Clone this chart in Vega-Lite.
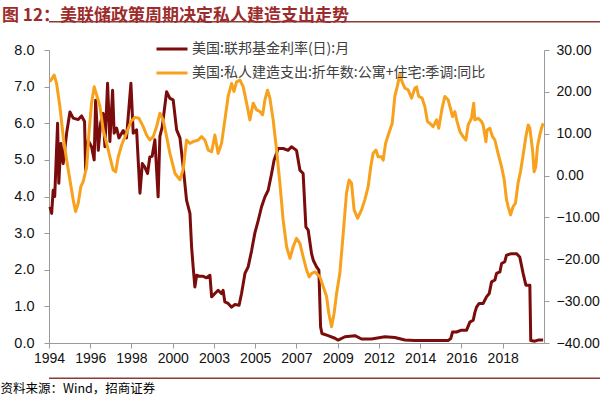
{
  "$schema": "https://vega.github.io/schema/vega-lite/v6.json",
  "width": 495,
  "height": 293,
  "autosize": {"type": "none"},
  "padding": {"left": 49, "top": 50, "right": 56, "bottom": 55},
  "background": "white",
  "config": {"view": {"stroke": null}, "font": "Liberation Sans"},
  "title": {
    "text": "图 12：美联储政策周期决定私人建造支出走势",
    "anchor": "start",
    "frame": "group",
    "orient": "top",
    "dx": -47,
    "dy": 27,
    "offset": 10,
    "baseline": "alphabetic",
    "font": "Noto Sans CJK SC",
    "fontSize": 17,
    "fontWeight": "bold",
    "color": "#9c2b2b"
  },
  "datasets": {
    "rate": [
      {"date": "1994-01-20", "value": 3.72},
      {"date": "1994-02-23", "value": 3.54},
      {"date": "1994-03-25", "value": 4.17},
      {"date": "1994-04-25", "value": 4.0},
      {"date": "1994-06-21", "value": 6.0},
      {"date": "1994-07-15", "value": 4.36},
      {"date": "1994-08-26", "value": 5.45},
      {"date": "1994-10-11", "value": 4.9},
      {"date": "1994-12-18", "value": 5.73},
      {"date": "1995-02-22", "value": 6.31},
      {"date": "1995-04-28", "value": 6.14},
      {"date": "1995-08-06", "value": 6.1},
      {"date": "1995-10-12", "value": 6.2},
      {"date": "1995-12-10", "value": 6.05},
      {"date": "1996-01-01", "value": 4.72},
      {"date": "1996-02-21", "value": 5.53},
      {"date": "1996-04-28", "value": 5.36},
      {"date": "1996-06-19", "value": 5.0},
      {"date": "1996-07-18", "value": 6.63},
      {"date": "1996-09-09", "value": 5.26},
      {"date": "1996-10-25", "value": 6.0},
      {"date": "1996-12-16", "value": 6.27},
      {"date": "1997-01-19", "value": 5.36},
      {"date": "1997-03-13", "value": 7.09},
      {"date": "1997-04-28", "value": 5.5},
      {"date": "1997-06-21", "value": 6.9},
      {"date": "1997-07-22", "value": 5.73},
      {"date": "1997-09-09", "value": 5.87},
      {"date": "1997-10-25", "value": 5.6},
      {"date": "1998-01-19", "value": 5.8},
      {"date": "1998-03-25", "value": 5.6},
      {"date": "1998-06-21", "value": 7.09},
      {"date": "1998-08-06", "value": 5.73},
      {"date": "1998-10-12", "value": 5.82},
      {"date": "1998-12-18", "value": 4.09},
      {"date": "1999-02-03", "value": 4.9},
      {"date": "1999-03-25", "value": 4.8},
      {"date": "1999-05-18", "value": 4.63},
      {"date": "1999-07-03", "value": 5.08},
      {"date": "1999-08-18", "value": 5.1},
      {"date": "1999-10-12", "value": 5.55},
      {"date": "1999-12-15", "value": 3.99},
      {"date": "2000-01-19", "value": 5.64},
      {"date": "2000-03-06", "value": 5.9},
      {"date": "2000-06-01", "value": 6.86},
      {"date": "2000-08-06", "value": 6.68},
      {"date": "2000-10-10", "value": 6.64},
      {"date": "2000-12-18", "value": 5.82},
      {"date": "2001-02-22", "value": 5.6},
      {"date": "2001-04-28", "value": 4.8},
      {"date": "2001-07-03", "value": 3.9},
      {"date": "2001-09-09", "value": 3.54},
      {"date": "2001-10-12", "value": 2.62},
      {"date": "2001-11-12", "value": 2.08},
      {"date": "2001-12-16", "value": 1.53},
      {"date": "2002-01-21", "value": 1.85},
      {"date": "2002-03-25", "value": 1.82},
      {"date": "2002-06-01", "value": 1.82},
      {"date": "2002-08-06", "value": 1.78},
      {"date": "2002-10-12", "value": 1.85},
      {"date": "2002-11-15", "value": 1.26},
      {"date": "2003-01-19", "value": 1.35},
      {"date": "2003-03-25", "value": 1.44},
      {"date": "2003-06-01", "value": 1.35},
      {"date": "2003-07-01", "value": 1.44},
      {"date": "2003-08-06", "value": 1.12},
      {"date": "2003-10-10", "value": 1.08},
      {"date": "2003-12-18", "value": 0.98},
      {"date": "2004-02-22", "value": 1.05},
      {"date": "2004-05-15", "value": 1.03},
      {"date": "2004-07-03", "value": 1.35},
      {"date": "2004-09-09", "value": 1.9},
      {"date": "2004-11-12", "value": 2.08},
      {"date": "2005-01-21", "value": 2.53},
      {"date": "2005-03-25", "value": 3.0},
      {"date": "2005-06-01", "value": 3.35},
      {"date": "2005-08-06", "value": 3.72},
      {"date": "2005-10-12", "value": 3.99},
      {"date": "2005-12-16", "value": 4.17},
      {"date": "2006-02-22", "value": 4.63},
      {"date": "2006-04-12", "value": 4.99},
      {"date": "2006-07-03", "value": 5.31},
      {"date": "2006-10-10", "value": 5.31},
      {"date": "2007-01-18", "value": 5.26},
      {"date": "2007-03-25", "value": 5.36},
      {"date": "2007-07-03", "value": 5.26},
      {"date": "2007-09-09", "value": 4.72},
      {"date": "2007-11-12", "value": 4.63},
      {"date": "2008-01-06", "value": 3.17},
      {"date": "2008-02-21", "value": 3.08},
      {"date": "2008-04-28", "value": 2.44},
      {"date": "2008-06-01", "value": 2.26},
      {"date": "2008-08-06", "value": 2.08},
      {"date": "2008-09-21", "value": 1.99},
      {"date": "2008-10-25", "value": 0.44},
      {"date": "2008-11-21", "value": 0.26},
      {"date": "2009-03-25", "value": 0.2},
      {"date": "2009-08-06", "value": 0.13},
      {"date": "2009-10-10", "value": 0.08},
      {"date": "2010-02-22", "value": 0.17},
      {"date": "2010-09-09", "value": 0.2},
      {"date": "2011-01-19", "value": 0.11},
      {"date": "2011-08-06", "value": 0.11},
      {"date": "2012-04-28", "value": 0.17},
      {"date": "2012-11-12", "value": 0.15},
      {"date": "2013-06-01", "value": 0.08},
      {"date": "2013-12-16", "value": 0.07},
      {"date": "2014-07-03", "value": 0.07},
      {"date": "2015-01-18", "value": 0.07},
      {"date": "2015-10-10", "value": 0.07},
      {"date": "2015-12-01", "value": 0.12},
      {"date": "2016-01-06", "value": 0.3},
      {"date": "2016-03-25", "value": 0.3},
      {"date": "2016-07-03", "value": 0.35},
      {"date": "2016-10-12", "value": 0.35},
      {"date": "2016-12-16", "value": 0.57},
      {"date": "2017-02-21", "value": 0.62},
      {"date": "2017-03-25", "value": 0.83},
      {"date": "2017-04-28", "value": 0.98},
      {"date": "2017-06-18", "value": 1.08},
      {"date": "2017-09-06", "value": 1.08},
      {"date": "2017-11-12", "value": 1.26},
      {"date": "2018-01-06", "value": 1.35},
      {"date": "2018-02-21", "value": 1.67},
      {"date": "2018-04-28", "value": 1.72},
      {"date": "2018-06-01", "value": 1.9},
      {"date": "2018-08-06", "value": 1.94},
      {"date": "2018-09-09", "value": 2.17},
      {"date": "2018-11-12", "value": 2.22},
      {"date": "2018-12-16", "value": 2.4},
      {"date": "2019-03-25", "value": 2.44},
      {"date": "2019-07-03", "value": 2.44},
      {"date": "2019-09-06", "value": 2.35},
      {"date": "2019-11-12", "value": 1.9},
      {"date": "2020-01-06", "value": 1.58},
      {"date": "2020-03-25", "value": 1.58},
      {"date": "2020-04-12", "value": 0.07},
      {"date": "2020-07-01", "value": 0.05},
      {"date": "2020-09-06", "value": 0.08},
      {"date": "2020-12-15", "value": 0.08}
    ],
    "cons": [
      {"date": "1994-01-20", "value": 22.4},
      {"date": "1994-04-14", "value": 24.0},
      {"date": "1994-06-01", "value": 22.0},
      {"date": "1994-08-06", "value": 16.5},
      {"date": "1994-10-11", "value": 9.3},
      {"date": "1994-12-18", "value": 3.7},
      {"date": "1995-02-22", "value": -1.05},
      {"date": "1995-04-28", "value": -5.8},
      {"date": "1995-06-15", "value": -8.6},
      {"date": "1995-08-06", "value": -6.6},
      {"date": "1995-09-28", "value": -2.6},
      {"date": "1995-11-12", "value": -1.5},
      {"date": "1996-01-21", "value": 2.1},
      {"date": "1996-03-06", "value": 10.1},
      {"date": "1996-04-28", "value": 17.3},
      {"date": "1996-06-19", "value": 21.2},
      {"date": "1996-08-06", "value": 19.3},
      {"date": "1996-10-12", "value": 16.5},
      {"date": "1996-12-16", "value": 10.9},
      {"date": "1997-02-23", "value": 7.7},
      {"date": "1997-04-28", "value": 4.5},
      {"date": "1997-07-03", "value": 1.3},
      {"date": "1997-08-21", "value": 0.9},
      {"date": "1997-10-12", "value": 4.5},
      {"date": "1997-12-18", "value": 7.3},
      {"date": "1998-03-25", "value": 10.1},
      {"date": "1998-06-21", "value": 12.9},
      {"date": "1998-09-09", "value": 13.9},
      {"date": "1998-11-27", "value": 13.7},
      {"date": "1999-02-21", "value": 11.7},
      {"date": "1999-04-28", "value": 9.7},
      {"date": "1999-07-03", "value": 8.5},
      {"date": "1999-09-09", "value": 9.3},
      {"date": "1999-11-15", "value": 11.7},
      {"date": "2000-01-19", "value": 14.9},
      {"date": "2000-03-25", "value": 13.3},
      {"date": "2000-06-01", "value": 9.3},
      {"date": "2000-08-06", "value": 5.3},
      {"date": "2000-11-15", "value": 0.5},
      {"date": "2001-02-22", "value": -1.0},
      {"date": "2001-04-28", "value": 1.5},
      {"date": "2001-07-03", "value": 8.5},
      {"date": "2001-09-09", "value": 7.7},
      {"date": "2001-11-12", "value": 8.1},
      {"date": "2002-02-21", "value": 8.5},
      {"date": "2002-04-28", "value": 9.3},
      {"date": "2002-07-03", "value": 8.5},
      {"date": "2002-09-09", "value": 6.1},
      {"date": "2002-11-15", "value": 5.7},
      {"date": "2003-01-19", "value": 9.7},
      {"date": "2003-03-25", "value": 5.3},
      {"date": "2003-06-01", "value": 7.7},
      {"date": "2003-08-06", "value": 13.3},
      {"date": "2003-10-10", "value": 18.9},
      {"date": "2003-12-18", "value": 22.0},
      {"date": "2004-02-03", "value": 20.1},
      {"date": "2004-03-25", "value": 22.4},
      {"date": "2004-06-01", "value": 22.8},
      {"date": "2004-08-06", "value": 21.2},
      {"date": "2004-10-12", "value": 17.3},
      {"date": "2004-12-16", "value": 13.3},
      {"date": "2005-02-21", "value": 17.3},
      {"date": "2005-04-28", "value": 15.7},
      {"date": "2005-07-03", "value": 15.3},
      {"date": "2005-08-27", "value": 14.5},
      {"date": "2005-10-12", "value": 18.1},
      {"date": "2005-12-03", "value": 20.4},
      {"date": "2006-01-19", "value": 18.5},
      {"date": "2006-03-25", "value": 13.3},
      {"date": "2006-06-01", "value": 6.1},
      {"date": "2006-08-06", "value": -1.8},
      {"date": "2006-10-10", "value": -10.6},
      {"date": "2006-12-18", "value": -17.0},
      {"date": "2007-02-22", "value": -19.8},
      {"date": "2007-04-28", "value": -17.0},
      {"date": "2007-07-03", "value": -15.0},
      {"date": "2007-09-09", "value": -16.2},
      {"date": "2007-11-12", "value": -19.4},
      {"date": "2008-01-21", "value": -22.6},
      {"date": "2008-03-12", "value": -24.2},
      {"date": "2008-04-28", "value": -23.4},
      {"date": "2008-07-03", "value": -23.0},
      {"date": "2008-10-12", "value": -24.2},
      {"date": "2008-12-16", "value": -26.5},
      {"date": "2009-02-21", "value": -28.9},
      {"date": "2009-04-06", "value": -32.9},
      {"date": "2009-06-01", "value": -36.1},
      {"date": "2009-07-21", "value": -32.9},
      {"date": "2009-09-09", "value": -28.1},
      {"date": "2009-11-12", "value": -23.4},
      {"date": "2010-01-19", "value": -13.8},
      {"date": "2010-03-25", "value": -4.2},
      {"date": "2010-05-15", "value": -1.05},
      {"date": "2010-07-03", "value": -1.8},
      {"date": "2010-08-24", "value": -8.2},
      {"date": "2010-11-01", "value": -10.2},
      {"date": "2011-01-19", "value": -8.2},
      {"date": "2011-03-25", "value": -5.8},
      {"date": "2011-06-01", "value": -2.6},
      {"date": "2011-07-21", "value": 2.1},
      {"date": "2011-09-06", "value": 5.3},
      {"date": "2011-11-01", "value": 6.1},
      {"date": "2011-12-15", "value": 4.5},
      {"date": "2012-02-21", "value": 4.5},
      {"date": "2012-03-25", "value": 3.7},
      {"date": "2012-05-12", "value": 7.7},
      {"date": "2012-07-15", "value": 10.1},
      {"date": "2012-09-21", "value": 12.5},
      {"date": "2012-11-12", "value": 18.9},
      {"date": "2013-01-06", "value": 21.6},
      {"date": "2013-02-21", "value": 24.4},
      {"date": "2013-04-06", "value": 22.4},
      {"date": "2013-06-01", "value": 20.9},
      {"date": "2013-08-03", "value": 20.5},
      {"date": "2013-10-12", "value": 18.5},
      {"date": "2013-12-16", "value": 20.9},
      {"date": "2014-01-19", "value": 21.2},
      {"date": "2014-03-03", "value": 18.9},
      {"date": "2014-05-09", "value": 18.5},
      {"date": "2014-07-03", "value": 16.5},
      {"date": "2014-08-24", "value": 12.9},
      {"date": "2014-10-09", "value": 12.5},
      {"date": "2014-12-15", "value": 11.7},
      {"date": "2015-02-21", "value": 13.3},
      {"date": "2015-04-06", "value": 11.3},
      {"date": "2015-06-12", "value": 16.1},
      {"date": "2015-08-06", "value": 18.9},
      {"date": "2015-10-10", "value": 18.1},
      {"date": "2015-11-15", "value": 16.5},
      {"date": "2016-01-06", "value": 14.1},
      {"date": "2016-02-21", "value": 15.3},
      {"date": "2016-04-06", "value": 12.9},
      {"date": "2016-06-01", "value": 10.5},
      {"date": "2016-08-03", "value": 9.3},
      {"date": "2016-09-27", "value": 8.5},
      {"date": "2016-11-12", "value": 12.1},
      {"date": "2017-01-18", "value": 13.7},
      {"date": "2017-03-03", "value": 17.3},
      {"date": "2017-03-25", "value": 13.3},
      {"date": "2017-06-01", "value": 13.7},
      {"date": "2017-08-06", "value": 12.9},
      {"date": "2017-09-06", "value": 12.1},
      {"date": "2017-11-01", "value": 8.1},
      {"date": "2017-11-25", "value": 10.9},
      {"date": "2018-01-18", "value": 11.3},
      {"date": "2018-03-12", "value": 9.3},
      {"date": "2018-04-28", "value": 8.5},
      {"date": "2018-07-01", "value": 5.3},
      {"date": "2018-09-09", "value": 2.1},
      {"date": "2018-11-01", "value": -1.05},
      {"date": "2018-12-16", "value": -5.8},
      {"date": "2019-01-18", "value": -7.4},
      {"date": "2019-03-06", "value": -9.4},
      {"date": "2019-04-27", "value": -7.4},
      {"date": "2019-06-12", "value": -6.6},
      {"date": "2019-08-03", "value": -1.8},
      {"date": "2019-09-21", "value": 0.9},
      {"date": "2019-11-12", "value": 4.9},
      {"date": "2020-01-06", "value": 9.3},
      {"date": "2020-02-21", "value": 12.1},
      {"date": "2020-03-25", "value": 11.3},
      {"date": "2020-05-18", "value": 6.1},
      {"date": "2020-06-18", "value": 0.9},
      {"date": "2020-07-21", "value": 2.1},
      {"date": "2020-08-24", "value": 6.9},
      {"date": "2020-10-09", "value": 9.7},
      {"date": "2020-11-12", "value": 11.3},
      {"date": "2020-12-15", "value": 12.5}
    ]
  },
  "layer": [
    {
      "layer": [
        {
          "data": {"name": "rate"},
          "mark": {"type": "line", "strokeWidth": 3, "strokeJoin": "round"},
          "encoding": {
            "x": {
              "field": "date",
              "type": "temporal",
              "scale": {
                "type": "utc",
                "domain": [
                  {"year": 1994, "month": 1, "date": 1, "utc": true},
                  {"year": 2021, "month": 1, "date": 1, "utc": true}
                ]
              },
              "axis": {
                "values": [
                  {"year": 1994, "month": 1, "date": 1, "utc": true},
                  {"year": 1996, "month": 4, "date": 1, "utc": true},
                  {"year": 1998, "month": 7, "date": 1, "utc": true},
                  {"year": 2000, "month": 10, "date": 1, "utc": true},
                  {"year": 2003, "month": 1, "date": 1, "utc": true},
                  {"year": 2005, "month": 4, "date": 1, "utc": true},
                  {"year": 2007, "month": 7, "date": 1, "utc": true},
                  {"year": 2009, "month": 10, "date": 1, "utc": true},
                  {"year": 2012, "month": 1, "date": 1, "utc": true},
                  {"year": 2014, "month": 4, "date": 1, "utc": true},
                  {"year": 2016, "month": 7, "date": 1, "utc": true},
                  {"year": 2018, "month": 10, "date": 1, "utc": true}
                ],
                "labelExpr": "utcFormat(datum.value, '%Y')",
                "grid": false,
                "domainColor": "#9a9a9a",
                "tickColor": "#9a9a9a",
                "tickSize": 5,
                "labelFont": "Liberation Sans",
                "labelFontSize": 14,
                "labelColor": "#111111",
                "labelPadding": 3,
                "labelFlush": false,
                "labelOverlap": false,
                "title": "资料来源：Wind，招商证券",
                "titleAnchor": "start",
                "titleAlign": "left",
                "titleX": -49,
                "titleY": 49,
                "titleBaseline": "alphabetic",
                "titleFont": "Noto Sans CJK SC",
                "titleFontSize": 12.5,
                "titleFontWeight": "normal",
                "titleColor": "#000000"
              }
            },
            "y": {
              "field": "value",
              "type": "quantitative",
              "scale": {"domain": [0, 8]},
              "axis": {
                "orient": "left",
                "values": [0, 1, 2, 3, 4, 5, 6, 7, 8],
                "format": ".1f",
                "title": null,
                "grid": false,
                "labelOverlap": false,
                "domainColor": "#9a9a9a",
                "tickColor": "#9a9a9a",
                "tickSize": 5,
                "labelPadding": 10,
                "labelFont": "Liberation Sans",
                "labelFontSize": 14.5,
                "labelColor": "#111111"
              }
            },
            "color": {
              "datum": "美国:联邦基金利率(日):月",
              "type": "nominal",
              "scale": {
                "domain": ["美国:联邦基金利率(日):月", "美国:私人建造支出:折年数:公寓+住宅:季调:同比"],
                "range": ["#7b0c0c", "#f7a11c"]
              },
              "legend": {
                "orient": "none",
                "legendX": 106,
                "legendY": -18,
                "direction": "vertical",
                "title": null,
                "symbolType": "stroke",
                "symbolStrokeWidth": 3,
                "symbolSize": 961,
                "labelFont": "Noto Sans CJK SC",
                "labelFontSize": 14,
                "labelColor": "#404040",
                "labelLimit": 0,
                "labelOffset": 3,
                "rowPadding": -5
              }
            }
          }
        },
        {
          "data": {"values": [{"edge": "top"}]},
          "mark": {"type": "rule", "color": "#8c3a3a", "strokeWidth": 1.5, "xOffset": 56, "x2Offset": -49},
          "encoding": {
            "y": {
              "datum": 8.77,
              "type": "quantitative",
              "scale": {"domain": [0, 8]},
              "axis": {
                "orient": "left",
                "values": [0, 1, 2, 3, 4, 5, 6, 7, 8],
                "format": ".1f",
                "title": null,
                "grid": false,
                "labelOverlap": false,
                "domainColor": "#9a9a9a",
                "tickColor": "#9a9a9a",
                "tickSize": 5,
                "labelPadding": 10,
                "labelFont": "Liberation Sans",
                "labelFontSize": 14.5,
                "labelColor": "#111111"
              }
            }
          }
        },
        {
          "data": {"values": [{"edge": "bottom"}]},
          "mark": {"type": "rule", "color": "#8c3a3a", "strokeWidth": 1.5, "xOffset": 56, "x2Offset": -49},
          "encoding": {
            "y": {
              "datum": -0.965,
              "type": "quantitative",
              "scale": {"domain": [0, 8]},
              "axis": {
                "orient": "left",
                "values": [0, 1, 2, 3, 4, 5, 6, 7, 8],
                "format": ".1f",
                "title": null,
                "grid": false,
                "labelOverlap": false,
                "domainColor": "#9a9a9a",
                "tickColor": "#9a9a9a",
                "tickSize": 5,
                "labelPadding": 10,
                "labelFont": "Liberation Sans",
                "labelFontSize": 14.5,
                "labelColor": "#111111"
              }
            }
          }
        }
      ]
    },
    {
      "data": {"name": "cons"},
      "mark": {"type": "line", "strokeWidth": 3, "strokeJoin": "round"},
      "encoding": {
        "x": {"field": "date", "type": "temporal"},
        "y": {
          "field": "value",
          "type": "quantitative",
          "scale": {"domain": [-40, 30]},
          "axis": {
            "orient": "right",
            "values": [-40, -30, -20, -10, 0, 10, 20, 30],
            "format": ".2f",
            "title": null,
            "grid": false,
            "labelOverlap": false,
            "domainColor": "#9a9a9a",
            "tickColor": "#9a9a9a",
            "tickSize": 5,
            "labelPadding": 7,
            "labelFont": "Liberation Sans",
            "labelFontSize": 14,
            "labelColor": "#111111"
          }
        },
        "color": {"datum": "美国:私人建造支出:折年数:公寓+住宅:季调:同比", "type": "nominal"}
      }
    }
  ],
  "resolve": {"scale": {"y": "independent"}, "axis": {"y": "independent"}}
}
